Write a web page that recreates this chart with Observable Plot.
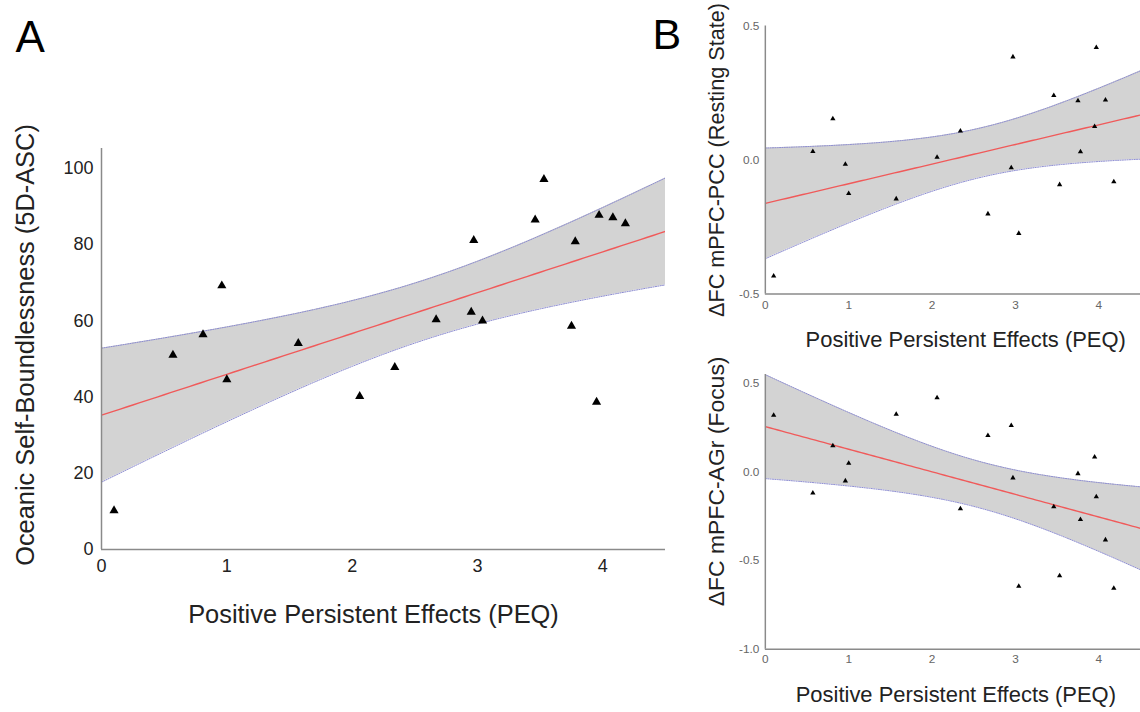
<!DOCTYPE html>
<html>
<head>
<meta charset="utf-8">
<script src="https://cdn.jsdelivr.net/npm/d3@7"></script>
<script src="https://cdn.jsdelivr.net/npm/@observablehq/plot@0.6"></script>
<style>
  html, body { margin: 0; padding: 0; background: #fff; }
  #wrap { position: relative; width: 1140px; height: 712px; overflow: hidden; font-family: "Liberation Sans", Arial, sans-serif; }
  .panel { position: absolute; }
</style>
</head>
<body>
<div id="wrap">
  <div class="panel" id="pA" style="left:0;top:0"></div>
  <div class="panel" id="pB1" style="left:690px;top:0"></div>
  <div class="panel" id="pB2" style="left:690px;top:360px"></div>
</div>
<script>
// ---- data ----
const peq      = [0.10, 0.57, 0.81, 0.96, 1.00, 1.57, 2.06, 2.34, 2.67, 2.95, 2.97, 3.04, 3.46, 3.53, 3.75, 3.78, 3.95, 3.97, 4.08, 4.18];
const oceanic  = [10.2, 51.0, 56.4, 69.2, 44.6, 54.1, 40.2, 47.8, 60.3, 62.3, 81.1, 60.0, 86.5, 97.1, 58.6, 80.8, 38.7, 87.7, 87.1, 85.5];
const fcPCC    = [-0.433, 0.032, 0.154, -0.016, -0.125, -0.145, 0.010, 0.108, -0.201, -0.029, 0.385, -0.274, 0.241, -0.092, 0.221, 0.031, 0.125, 0.420, 0.224, -0.081];
const fcAGr    = [0.320, -0.118, 0.148, -0.050, 0.050, 0.326, 0.419, -0.207, 0.206, 0.263, -0.033, -0.644, -0.196, -0.585, -0.009, -0.268, 0.085, -0.139, -0.383, -0.656];
const xTicks   = [0, 1, 2, 3, 4];
const yTicksA  = [0, 20, 40, 60, 80, 100];
const yTicksB1 = [-0.5, 0, 0.5];
const yTicksB2 = [-1, -0.5, 0, 0.5];
const xLabel   = "Positive Persistent Effects (PEQ)";
const yLabelA  = "Oceanic Self-Boundlessness (5D-ASC)";
const yLabelB1 = "ΔFC mPFC-PCC (Resting State)";
const yLabelB2 = "ΔFC mPFC-AGr (Focus)";
const T975 = 2.1009; // Student t, 0.975 quantile, df = 18

// ---- regression with 95% confidence band ----
function ciFit(xs, ys, x0, x1, steps = 90) {
  const N = xs.length, mx = d3.mean(xs), my = d3.mean(ys);
  let sxx = 0, sxy = 0;
  for (let i = 0; i < N; i++) { sxx += (xs[i] - mx) ** 2; sxy += (xs[i] - mx) * (ys[i] - my); }
  const b = sxy / sxx, a = my - b * mx;
  let sse = 0;
  for (let i = 0; i < N; i++) sse += (ys[i] - (a + b * xs[i])) ** 2;
  const s = Math.sqrt(sse / (N - 2));
  return d3.range(steps + 1).map(i => {
    const x = x0 + (x1 - x0) * i / steps;
    const yh = a + b * x;
    const se = s * Math.sqrt(1 / N + (x - mx) ** 2 / sxx);
    return {x, fit: yh, lo: yh - T975 * se, hi: yh + T975 * se};
  });
}

const font = "Liberation Sans, Arial, Helvetica, sans-serif";
const bandFill = "#d3d3d3", edge = "#8c8cd0", fitColor = "#f05a5a", axisColor = "#8a8a8a";

function panel({ys, yDomain, yTicks, yFmt, width, height, mL, mT, mR, mB, r, tickFont, tickColor, tickPadX, tickPadY,
                yLabel, yLabelFont, yDx, yDy, xLabelFont, xDx, xDy, extra = []}) {
  const data = peq.map((x, i) => ({x, y: ys[i]}));
  const fit = ciFit(peq, ys, 0, 4.5);
  return Plot.plot({
    width, height, marginLeft: mL, marginTop: mT, marginRight: mR, marginBottom: mB,
    style: {fontFamily: font, background: "transparent", overflow: "visible"},
    x: {domain: [0, 4.5]},
    y: {domain: yDomain},
    marks: [
      Plot.areaY(fit, {x: "x", y1: "lo", y2: "hi", fill: bandFill, clip: true}),
      Plot.line(fit, {x: "x", y: "lo", stroke: edge, strokeWidth: 1, strokeDasharray: "1.2,1.2", clip: true}),
      Plot.line(fit, {x: "x", y: "hi", stroke: edge, strokeWidth: 1, strokeDasharray: "1.2,1.2", clip: true}),
      Plot.line(fit, {x: "x", y: "fit", stroke: fitColor, strokeWidth: 1.4, clip: true}),
      Plot.ruleX([0], {stroke: axisColor, strokeWidth: 1.5}),
      Plot.ruleY([yDomain[0]], {stroke: axisColor, strokeWidth: 1.5}),
      Plot.dot(data, {x: "x", y: "y", symbol: "triangle", r, fill: "#000", stroke: "none"}),
      Plot.axisX({ticks: xTicks, tickSize: 0, tickPadding: tickPadX, fontSize: tickFont, fill: tickColor, label: null,
                  tickFormat: d => String(d)}),
      Plot.axisY({ticks: yTicks, tickSize: 0, tickPadding: tickPadY, fontSize: tickFont, fill: tickColor, label: null,
                  tickFormat: yFmt}),
      Plot.text([yLabel], {text: d => d, frameAnchor: "left", textAnchor: "middle", lineAnchor: "middle", rotate: -90,
                           dx: yDx, dy: yDy, fontSize: yLabelFont, fill: "#222"}),
      Plot.text([xLabel], {text: d => d, frameAnchor: "bottom", textAnchor: "middle", lineAnchor: "bottom",
                           dx: xDx, dy: xDy, fontSize: xLabelFont, fill: "#222"}),
      ...extra
    ]
  });
}

const fmtInt = d => String(d);
const fmtDec = d => d.toFixed(1);

// Panel A
document.getElementById("pA").append(panel({
  ys: oceanic, yDomain: [0, 105.2], yTicks: yTicksA, yFmt: fmtInt,
  width: 690, height: 660, mL: 101, mT: 148, mR: 25, mB: 111, r: 3.4,
  tickFont: 18, tickColor: "#222", tickPadX: 10, tickPadY: 8,
  yLabel: yLabelA, yLabelFont: 25.4, yDx: -76, yDy: -4,
  xLabelFont: 25.4, xDx: -10, xDy: 73,
  extra: [
    Plot.text(["A"], {text: d => d, frameAnchor: "top-left", textAnchor: "start", lineAnchor: "bottom", dx: -86, dy: -97, fontSize: 44, fill: "#000"}),
    Plot.text(["B"], {text: d => d, frameAnchor: "top-left", textAnchor: "start", lineAnchor: "bottom", dx: 551, dy: -100, fontSize: 43, fill: "#000"})
  ]
}));

// Panel B top
document.getElementById("pB1").append(panel({
  ys: fcPCC, yDomain: [-0.5, 0.5], yTicks: yTicksB1, yFmt: fmtDec,
  width: 457, height: 360, mL: 76, mT: 26, mR: 0, mB: 62, r: 2,
  tickFont: 12, tickColor: "#666", tickPadX: 7, tickPadY: 6,
  yLabel: yLabelB1, yLabelFont: 22, yDx: -49, yDy: 0,
  xLabelFont: 22.3, xDx: 13, xDy: 54
}));

// Panel B bottom
document.getElementById("pB2").append(panel({
  ys: fcAGr, yDomain: [-1, 0.55], yTicks: yTicksB2, yFmt: fmtDec,
  width: 457, height: 352, mL: 76, mT: 14.3, mR: 0, mB: 58.7, r: 2,
  tickFont: 12, tickColor: "#666", tickPadX: 5, tickPadY: 6,
  yLabel: yLabelB2, yLabelFont: 23.3, yDx: -49, yDy: -31,
  xLabelFont: 22.3, xDx: 3, xDy: 54
}));
</script>
</body>
</html>
